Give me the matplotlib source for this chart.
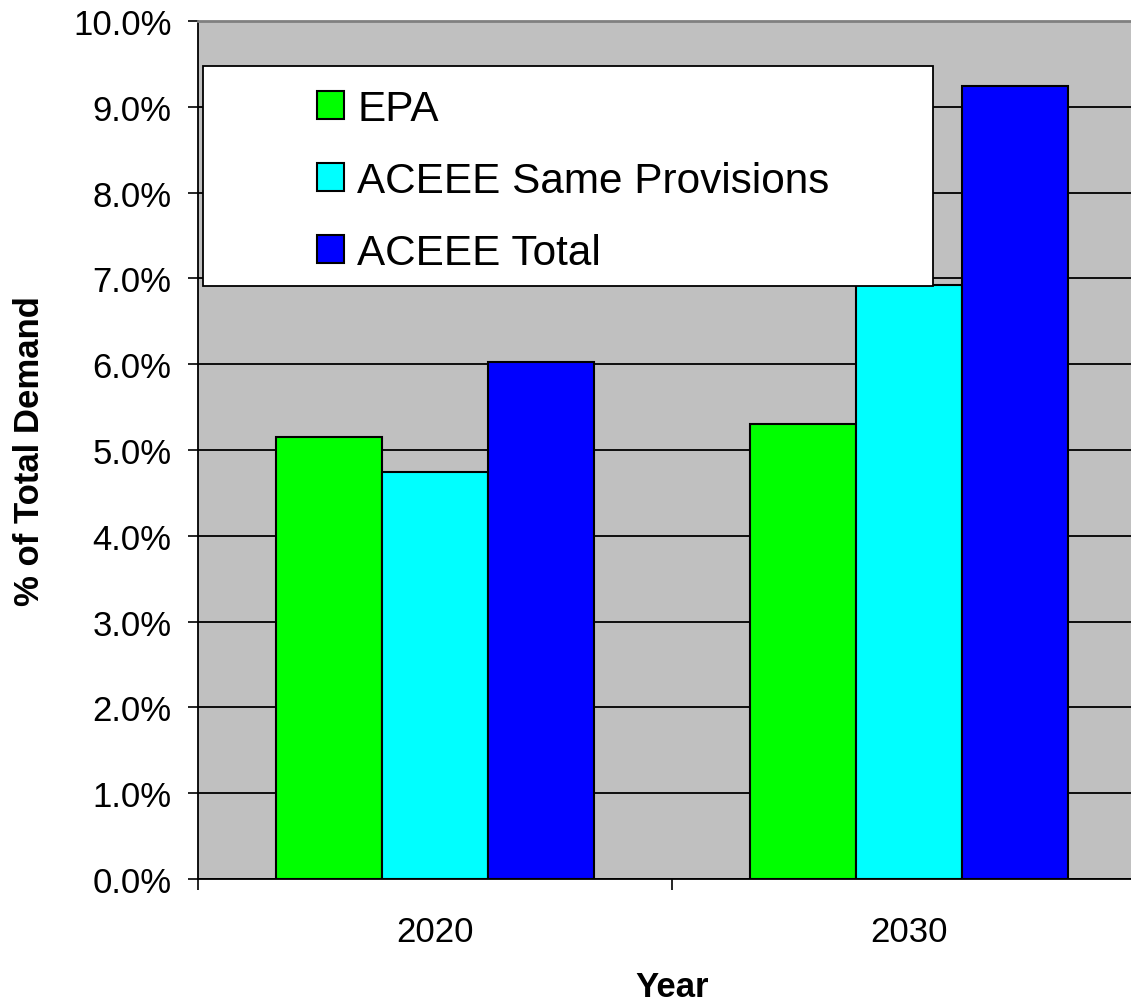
import numpy as np
import matplotlib.pyplot as plt
from matplotlib.patches import Rectangle

plt.rcParams['font.family'] = ['Liberation Sans', 'DejaVu Sans']

years = ['2020', '2030']
series = ['EPA', 'ACEEE Same Provisions', 'ACEEE Total']
values = {
    'EPA': [5.15, 5.30],
    'ACEEE Same Provisions': [4.74, 6.92],
    'ACEEE Total': [6.02, 9.24],
}
colors = ['#00FF00', '#00FFFF', '#0000FF']
yticks = np.arange(0, 10.01, 1.0)

W, H = 1131, 1004
fig = plt.figure(figsize=(W / 100, H / 100), dpi=100)
ax = fig.add_axes([198 / W, (H - 880) / H, 948 / W, 858 / H])
ax.set_facecolor('#C0C0C0')

x = np.arange(len(years)) + 0.5
bw = 0.2236
for i, name in enumerate(series):
    ax.bar(x + (i - 1) * bw, values[name], bw, color=colors[i],
           edgecolor='black', linewidth=1.5, label=name, zorder=3)

ax.set_xlim(0, 2)
ax.set_ylim(0, 10)
ax.set_yticks(yticks)
ax.set_yticklabels(['%.1f%%' % v for v in yticks])
ax.yaxis.grid(True, color='black', linewidth=1.3, zorder=1)
ax.set_axisbelow(True)
ax.set_xticks([0, 1, 2], minor=True)
ax.set_xticks(x)
ax.set_xticklabels(years)
ax.tick_params(axis='x', which='major', length=0, labelsize=25, pad=26)
ax.tick_params(axis='x', which='minor', length=8, width=1.2, direction='out')
ax.tick_params(axis='y', length=7, width=1.2, labelsize=25, pad=12)

ax.spines['top'].set_color('#808080')
ax.spines['top'].set_linewidth(2)
ax.spines['right'].set_visible(False)
ax.spines['left'].set_linewidth(1.3)
ax.spines['bottom'].set_linewidth(1.3)

ax.set_ylabel('% of Total Demand', fontsize=25, fontweight='bold')
ax.set_xlabel('Year', fontsize=25, fontweight='bold')
ax.yaxis.set_label_coords(-0.160, 0.5)
ax.xaxis.set_label_coords(0.5, -0.106)

# legend box
ax.add_patch(Rectangle((0.0053, 0.691), 0.77, 0.2566, transform=ax.transAxes,
                       facecolor='white', edgecolor='black', linewidth=1.3, zorder=5))
leg = ax.legend(loc='upper left', bbox_to_anchor=(0.125, 0.9207), frameon=False,
                fontsize=30.4, handlelength=0.64, handleheight=0.64,
                handletextpad=0.33, labelspacing=0.755, borderpad=0, borderaxespad=0)
leg.set_zorder(6)

fig.savefig('out.png', dpi=100)
